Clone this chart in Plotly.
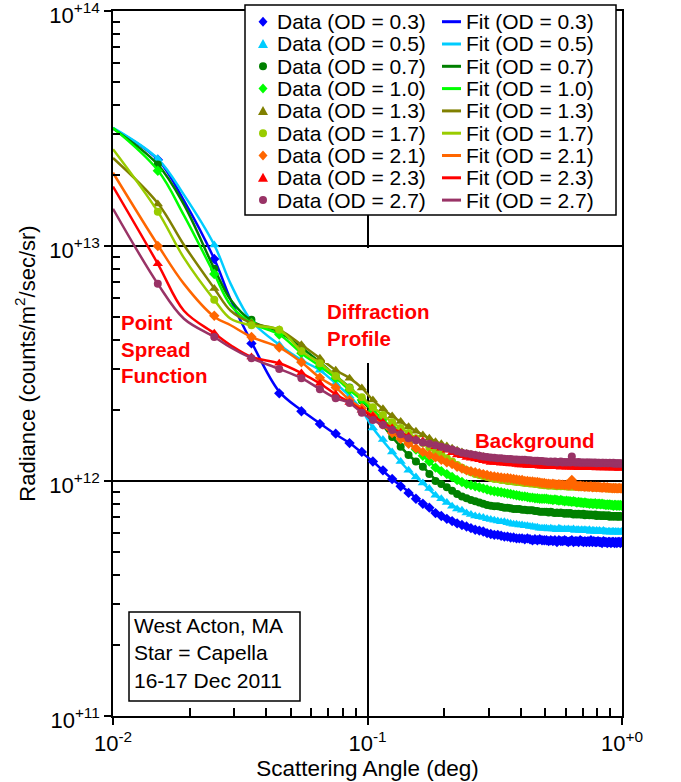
import plotly.graph_objects as go

# ---------------- data (radiance in units of 1e12 counts/m^2/sec/sr) ----------------
OD_LABELS = ["0.3", "0.5", "0.7", "1.0", "1.3", "1.7", "2.1", "2.3", "2.7"]
COLORS = ["#0000FF", "#00CCFF", "#008000", "#00FF00", "#808000",
          "#99CC00", "#FF6600", "#FF0000", "#993366"]
SYMBOLS = ["diamond", "triangle-up", "circle", "diamond", "triangle-up",
           "circle", "diamond", "triangle-up", "circle"]

# scattering angle of the measured points (deg)
DATA_X = [0.015, 0.025, 0.035, 0.045, 0.055, 0.065, 0.075, 0.085, 0.095, 0.105,
          0.115, 0.125, 0.135, 0.145, 0.155, 0.165, 0.175, 0.185, 0.195, 0.205,
          0.215, 0.225, 0.235, 0.245, 0.255, 0.265, 0.275, 0.285, 0.295, 0.305,
          0.315, 0.325, 0.335, 0.345, 0.355, 0.365, 0.375, 0.385, 0.395, 0.405,
          0.415, 0.425, 0.435, 0.445, 0.455, 0.465, 0.475, 0.485, 0.495, 0.505,
          0.515, 0.525, 0.535, 0.545, 0.555, 0.565, 0.575, 0.585, 0.595, 0.605,
          0.615, 0.625, 0.635, 0.645, 0.655, 0.665, 0.675, 0.685, 0.695, 0.705,
          0.715, 0.725, 0.735, 0.745, 0.755, 0.765, 0.775, 0.785, 0.795, 0.805,
          0.815, 0.825, 0.835, 0.845, 0.855, 0.865, 0.875, 0.885, 0.895, 0.905,
          0.915, 0.925, 0.935, 0.945, 0.955, 0.965, 0.975, 0.985, 0.995]

DATA_03 = [23.3, 8.8, 3.85, 2.36, 1.98, 1.75, 1.59, 1.45, 1.33, 1.21,
           1.11, 1.02, 0.95, 0.89, 0.84, 0.80, 0.77, 0.73, 0.71, 0.69,
           0.675, 0.66, 0.65, 0.64, 0.63, 0.62, 0.615, 0.61, 0.60, 0.595,
           0.59, 0.59, 0.585, 0.58, 0.58, 0.575, 0.575, 0.57, 0.57,
           0.57, 0.565, 0.57, 0.565, 0.56, 0.565, 0.56, 0.565, 0.56, 0.56,
           0.56, 0.555, 0.56, 0.555, 0.56, 0.55, 0.56, 0.555, 0.555, 0.56,
           0.555, 0.55, 0.555, 0.56, 0.55, 0.555, 0.555, 0.55, 0.56, 0.555,
           0.55, 0.555, 0.55, 0.555, 0.55, 0.56, 0.55, 0.555, 0.55, 0.55,
           0.555, 0.55, 0.55, 0.545, 0.555, 0.55, 0.55, 0.545, 0.55, 0.55,
           0.545, 0.55, 0.55, 0.545, 0.55, 0.545, 0.55, 0.55, 0.545, 0.55]
DATA_05 = [23.5, 10.1, 4.8, 3.8, 3.27, 2.96, 2.6, 2.3, 2.0, 1.68,
           1.5, 1.33, 1.21, 1.11, 1.04, 0.98, 0.93, 0.87, 0.84, 0.81,
           0.78, 0.76, 0.75, 0.73, 0.72, 0.71, 0.705, 0.70, 0.69, 0.685,
           0.68, 0.675, 0.67, 0.67, 0.665, 0.66, 0.655, 0.655, 0.65,
           0.65, 0.645, 0.645, 0.64, 0.64, 0.635, 0.635, 0.63, 0.63, 0.63,
           0.63, 0.625, 0.63, 0.625, 0.625, 0.62, 0.63, 0.625, 0.62, 0.625,
           0.62, 0.625, 0.62, 0.62, 0.625, 0.615, 0.62, 0.62, 0.615, 0.62,
           0.615, 0.62, 0.615, 0.615, 0.62, 0.61, 0.615, 0.615, 0.61, 0.615,
           0.61, 0.615, 0.61, 0.61, 0.615, 0.61, 0.61, 0.605, 0.61, 0.61,
           0.605, 0.61, 0.61, 0.605, 0.61, 0.605, 0.61, 0.605, 0.605, 0.61]
DATA_07 = [22.2, 8.0, 4.85, 4.3, 3.7, 3.2, 2.8, 2.5, 2.2, 1.96,
           1.74, 1.54, 1.40, 1.29, 1.21, 1.15, 1.07, 1.00, 0.97, 0.94,
           0.91, 0.88, 0.86, 0.845, 0.83, 0.82, 0.81, 0.80, 0.79, 0.785,
           0.78, 0.78, 0.775, 0.77, 0.77, 0.765, 0.76, 0.76, 0.76,
           0.755, 0.755, 0.75, 0.75, 0.75, 0.745, 0.745, 0.74, 0.74, 0.74,
           0.74, 0.735, 0.74, 0.735, 0.73, 0.735, 0.73, 0.735, 0.73, 0.725,
           0.73, 0.725, 0.73, 0.725, 0.72, 0.725, 0.72, 0.725, 0.72, 0.72,
           0.725, 0.715, 0.72, 0.72, 0.715, 0.72, 0.715, 0.715, 0.72, 0.71,
           0.715, 0.715, 0.71, 0.715, 0.71, 0.715, 0.71, 0.71, 0.715, 0.705,
           0.71, 0.71, 0.705, 0.71, 0.71, 0.705, 0.71, 0.705, 0.71, 0.705]
DATA_10 = [20.9, 7.6, 4.7, 4.2, 3.5, 3.08, 2.74, 2.44, 2.21, 2.0,
           1.83, 1.68, 1.56, 1.45, 1.36, 1.28, 1.21, 1.14, 1.10, 1.07,
           1.04, 1.01, 0.99, 0.97, 0.96, 0.95, 0.94, 0.93, 0.92, 0.91,
           0.905, 0.90, 0.895, 0.89, 0.885, 0.88, 0.875, 0.87, 0.865,
           0.86, 0.86, 0.855, 0.85, 0.85, 0.845, 0.845, 0.84, 0.84, 0.84,
           0.84, 0.835, 0.835, 0.83, 0.835, 0.83, 0.825, 0.83, 0.825, 0.82,
           0.825, 0.82, 0.82, 0.815, 0.82, 0.815, 0.81, 0.815, 0.81, 0.81,
           0.805, 0.81, 0.805, 0.805, 0.80, 0.805, 0.80, 0.80, 0.805, 0.795,
           0.80, 0.80, 0.795, 0.80, 0.795, 0.795, 0.79, 0.795, 0.79, 0.795,
           0.79, 0.79, 0.785, 0.79, 0.79, 0.785, 0.79, 0.785, 0.79, 0.785]
DATA_13 = [15.1, 6.6, 4.7, 4.4, 3.8, 3.33, 2.96, 2.74, 2.49, 2.21,
           2.03, 1.89, 1.79, 1.70, 1.63, 1.57, 1.52, 1.47, 1.44, 1.41,
           1.38, 1.35, 1.33, 1.31, 1.30, 1.29, 1.28, 1.27, 1.26, 1.25,
           1.245, 1.24, 1.235, 1.23, 1.23, 1.225, 1.22, 1.22, 1.215,
           1.21, 1.21, 1.205, 1.2, 1.2, 1.2, 1.195, 1.19, 1.19, 1.19,
           1.185, 1.18, 1.185, 1.18, 1.18, 1.175, 1.18, 1.175, 1.175, 1.17,
           1.175, 1.17, 1.17, 1.175, 1.165, 1.17, 1.17, 1.165, 1.17, 1.165,
           1.165, 1.16, 1.165, 1.165, 1.16, 1.165, 1.16, 1.16, 1.165, 1.155,
           1.16, 1.16, 1.155, 1.16, 1.16, 1.155, 1.16, 1.155, 1.155, 1.16,
           1.155, 1.155, 1.15, 1.155, 1.155, 1.15, 1.155, 1.155, 1.15, 1.155]
DATA_17 = [14.0, 5.9, 4.6, 4.4, 3.57, 3.17, 2.8, 2.49, 2.27, 2.06,
           1.91, 1.78, 1.68, 1.6, 1.52, 1.45, 1.39, 1.34, 1.30, 1.25,
           1.21, 1.17, 1.14, 1.11, 1.09, 1.07, 1.06, 1.05, 1.04, 1.03,
           1.02, 1.02, 1.01, 1.01, 1.0, 1.0, 0.995, 0.99, 0.99,
           0.985, 0.98, 0.98, 0.975, 0.975, 0.97, 0.97, 0.965, 0.965, 0.96,
           0.96, 0.955, 0.96, 0.955, 0.955, 0.95, 0.955, 0.95, 0.955, 0.95,
           0.95, 0.945, 0.95, 0.945, 0.95, 0.945, 0.945, 0.95, 0.94, 0.945,
           0.945, 0.94, 0.945, 0.94, 0.94, 0.945, 0.94, 0.935, 0.94, 0.94,
           0.935, 0.94, 0.935, 0.935, 0.94, 0.935, 0.935, 0.93, 0.935, 0.935,
           0.93, 0.935, 0.93, 0.935, 0.93, 0.93, 0.935, 0.93, 0.93, 0.93]
DATA_21 = [10.0, 5.05, 4.1, 3.7, 3.2, 2.75, 2.5, 2.21, 2.04, 1.89,
           1.74, 1.6, 1.51, 1.44, 1.38, 1.33, 1.29, 1.26, 1.23, 1.20,
           1.18, 1.15, 1.13, 1.11, 1.10, 1.09, 1.08, 1.07, 1.06, 1.05,
           1.045, 1.04, 1.035, 1.03, 1.03, 1.025, 1.02, 1.015, 1.01,
           1.01, 1.0, 1.0, 0.995, 0.995, 0.99, 0.99, 0.985, 0.98, 0.98,
           0.975, 0.975, 0.97, 0.975, 0.97, 0.965, 0.97, 0.965, 0.965, 0.96,
           0.965, 0.96, 0.96, 1.01, 0.96, 0.955, 0.955, 0.95, 0.955, 0.95,
           0.95, 0.945, 0.95, 0.945, 0.945, 0.95, 0.94, 0.945, 0.945, 0.94,
           0.945, 0.94, 0.94, 0.935, 0.94, 0.94, 0.935, 0.94, 0.935, 0.935,
           0.935, 0.93, 0.935, 0.93, 0.935, 0.93, 0.93, 0.935, 0.93, 0.93]
DATA_23 = [8.4, 4.25, 3.37, 3.17, 2.88, 2.6, 2.34, 2.16, 2.0, 1.89,
           1.78, 1.68, 1.61, 1.55, 1.51, 1.48, 1.44, 1.40, 1.38, 1.35,
           1.32, 1.29, 1.28, 1.26, 1.25, 1.24, 1.23, 1.22, 1.21, 1.20,
           1.2, 1.195, 1.19, 1.19, 1.185, 1.18, 1.18, 1.175, 1.17,
           1.17, 1.17, 1.165, 1.165, 1.16, 1.16, 1.16, 1.155, 1.155, 1.155,
           1.155, 1.15, 1.155, 1.15, 1.15, 1.155, 1.15, 1.145, 1.15, 1.15,
           1.145, 1.15, 1.145, 1.145, 1.15, 1.145, 1.145, 1.14, 1.145, 1.145,
           1.14, 1.145, 1.14, 1.145, 1.14, 1.14, 1.145, 1.14, 1.14, 1.135,
           1.14, 1.14, 1.135, 1.14, 1.14, 1.135, 1.14, 1.135, 1.14, 1.135,
           1.135, 1.14, 1.135, 1.135, 1.14, 1.135, 1.135, 1.13, 1.135, 1.135]
DATA_27 = [6.9, 4.1, 3.33, 3.0, 2.74, 2.46, 2.25, 2.15, 1.95, 1.82,
           1.73, 1.65, 1.58, 1.52, 1.49, 1.46, 1.44, 1.42, 1.40, 1.38,
           1.36, 1.34, 1.32, 1.31, 1.30, 1.29, 1.28, 1.27, 1.265, 1.26,
           1.255, 1.25, 1.25, 1.245, 1.24, 1.24, 1.235, 1.235, 1.23,
           1.23, 1.23, 1.225, 1.225, 1.22, 1.22, 1.22, 1.215, 1.215, 1.21,
           1.21, 1.205, 1.21, 1.205, 1.21, 1.2, 1.205, 1.21, 1.2, 1.205,
           1.2, 1.205, 1.2, 1.27, 1.205, 1.2, 1.2, 1.205, 1.195, 1.2,
           1.2, 1.195, 1.2, 1.2, 1.195, 1.2, 1.195, 1.195, 1.2, 1.19,
           1.195, 1.195, 1.19, 1.195, 1.195, 1.19, 1.195, 1.19, 1.19, 1.195,
           1.19, 1.19, 1.195, 1.185, 1.19, 1.19, 1.185, 1.19, 1.19, 1.185]

# model fit curves
FIT_X = [0.010, 0.015, 0.019, 0.025, 0.029, 0.035, 0.045, 0.055, 0.065, 0.075,
         0.085, 0.095, 0.105, 0.125, 0.145, 0.165, 0.19, 0.23, 0.27, 0.33,
         0.40, 0.50, 0.80, 1.00]
FIT_03 = [31.6, 23.3, 15.6, 8.8, 5.9, 3.9, 2.4, 2.0, 1.76, 1.58, 1.45, 1.32, 1.21,
          1.02, 0.90, 0.80, 0.72, 0.66, 0.62, 0.59, 0.57, 0.56, 0.555, 0.55]
FIT_05 = [31.8, 23.5, 16.5, 10.1, 6.9, 4.8, 3.8, 3.27, 2.96, 2.6, 2.3, 2.0, 1.68,
          1.33, 1.11, 0.98, 0.85, 0.76, 0.71, 0.68, 0.65, 0.63, 0.61, 0.61]
FIT_07 = [31.6, 22.2, 15.0, 8.0, 5.9, 4.8, 4.3, 3.7, 3.2, 2.8, 2.5, 2.2, 1.96,
          1.54, 1.29, 1.15, 0.99, 0.88, 0.81, 0.78, 0.76, 0.74, 0.72, 0.71]
FIT_10 = [31.8, 21.0, 13.5, 7.6, 5.6, 4.7, 4.2, 3.5, 3.08, 2.74, 2.44, 2.21, 2.0,
          1.68, 1.45, 1.28, 1.12, 1.0, 0.94, 0.90, 0.86, 0.84, 0.81, 0.79]
FIT_13 = [23.7, 15.2, 10.1, 6.6, 5.3, 4.7, 4.4, 3.8, 3.33, 2.96, 2.74, 2.49, 2.21,
          1.89, 1.70, 1.57, 1.45, 1.35, 1.28, 1.23, 1.20, 1.18, 1.16, 1.16]
FIT_17 = [25.8, 14.0, 8.9, 5.9, 4.9, 4.6, 4.4, 3.57, 3.17, 2.8, 2.49, 2.27, 2.06,
          1.78, 1.6, 1.45, 1.31, 1.16, 1.06, 1.01, 0.98, 0.96, 0.94, 0.93]
FIT_21 = [20.5, 10.1, 6.9, 5.0, 4.6, 4.1, 3.7, 3.2, 2.75, 2.5, 2.21, 2.04, 1.89,
          1.6, 1.44, 1.33, 1.25, 1.15, 1.08, 1.04, 1.01, 0.98, 0.95, 0.93]
FIT_23 = [17.9, 8.4, 5.3, 4.25, 3.78, 3.37, 3.17, 2.88, 2.6, 2.34, 2.16, 2.0, 1.89,
          1.68, 1.55, 1.48, 1.39, 1.29, 1.23, 1.19, 1.17, 1.16, 1.15, 1.14]
FIT_27 = [14.4, 6.9, 4.9, 4.1, 3.7, 3.33, 3.0, 2.74, 2.46, 2.25, 2.15, 1.95, 1.82,
          1.65, 1.52, 1.46, 1.42, 1.33, 1.29, 1.25, 1.23, 1.22, 1.20, 1.19]

DATA_SETS = [DATA_03, DATA_05, DATA_07, DATA_10, DATA_13, DATA_17, DATA_21, DATA_23, DATA_27]
FIT_SETS = [FIT_03, FIT_05, FIT_07, FIT_10, FIT_13, FIT_17, FIT_21, FIT_23, FIT_27]
UNIT = 1e12

X_TICKS = [0.01, 0.1, 1.0]
X_TICKTEXT = ["10<sup>-2</sup>", "10<sup>-1</sup>", "10<sup>+0</sup>"]
Y_TICKS = [1e11, 1e12, 1e13, 1e14]
Y_TICKTEXT = ["10<sup>+11</sup>", "10<sup>+12</sup>", "10<sup>+13</sup>", "10<sup>+14</sup>"]
X_MINOR = [m * d for d in (0.01, 0.1) for m in range(2, 10)]
Y_MINOR = [m * d for d in (1e11, 1e12, 1e13) for m in range(2, 10)]

# ---------------- layout geometry (pixels of the 681x782 page) ----------------
W, H = 681, 782
L, R, T, B = 113, 622, 11, 716
FONT = "Liberation Sans, Arial, sans-serif"


def px(x):
    return (x - L) / (R - L)


def py(y):
    return (B - y) / (B - T)


fig = go.Figure()
for i in range(9):
    fig.add_trace(go.Scatter(
        x=DATA_X, y=[v * UNIT for v in DATA_SETS[i]], mode="markers",
        marker=dict(symbol=SYMBOLS[i], color=COLORS[i],
                    size=8 if SYMBOLS[i] != "triangle-up" else 9),
        showlegend=False, cliponaxis=True))
    fig.add_trace(go.Scatter(
        x=FIT_X, y=[v * UNIT for v in FIT_SETS[i]], mode="lines",
        line=dict(color=COLORS[i], width=2.5, shape="spline", smoothing=1.0),
        showlegend=False))

shapes = []
annotations = []

# legend box
shapes.append(dict(type="rect", xref="paper", yref="paper", layer="above",
                   x0=px(245), x1=px(616), y0=py(215), y1=py(5),
                   line=dict(color="black", width=1.5), fillcolor="white"))
ROW0, ROWSTEP = 21.7, 22.3
for i in range(9):
    cy = ROW0 + ROWSTEP * i
    cx = 263
    if SYMBOLS[i] == "diamond":
        pts = [(cx, cy - 5), (cx + 4.5, cy), (cx, cy + 5), (cx - 4.5, cy)]
    elif SYMBOLS[i] == "triangle-up":
        pts = [(cx, cy - 5), (cx + 5, cy + 4), (cx - 5, cy + 4)]
    else:
        pts = None
    if pts:
        path = "M " + " L ".join(f"{px(a):.5f},{py(b):.5f}" for a, b in pts) + " Z"
        shapes.append(dict(type="path", xref="paper", yref="paper", layer="above",
                           path=path, fillcolor=COLORS[i], line=dict(width=0)))
    else:
        shapes.append(dict(type="circle", xref="paper", yref="paper", layer="above",
                           x0=px(cx - 4), x1=px(cx + 4), y0=py(cy + 4), y1=py(cy - 4),
                           fillcolor=COLORS[i], line=dict(width=0)))
    shapes.append(dict(type="line", xref="paper", yref="paper", layer="above",
                       x0=px(442), x1=px(461), y0=py(cy), y1=py(cy),
                       line=dict(color=COLORS[i], width=3)))
    annotations.append(dict(xref="paper", yref="paper", x=px(275), y=py(cy),
                            xanchor="left", yanchor="middle", showarrow=False,
                            text=f"Data (OD = {OD_LABELS[i]})",
                            font=dict(family=FONT, size=21, color="black")))
    annotations.append(dict(xref="paper", yref="paper", x=px(464), y=py(cy),
                            xanchor="left", yanchor="middle", showarrow=False,
                            text=f"Fit (OD = {OD_LABELS[i]})",
                            font=dict(family=FONT, size=21, color="black")))

# white background behind "Diffraction Profile"
shapes.append(dict(type="rect", xref="paper", yref="paper", layer="above",
                   x0=px(325), x1=px(433), y0=py(363), y1=py(248),
                   line=dict(width=0), fillcolor="white"))
# site / star box
shapes.append(dict(type="rect", xref="paper", yref="paper", layer="above",
                   x0=px(129), x1=px(300), y0=py(701), y1=py(612),
                   line=dict(color="black", width=1.5), fillcolor="white"))

red = dict(family=FONT, size=20.5, color="#FF0000")
annotations += [
    dict(xref="paper", yref="paper", x=px(119), y=py(349), xanchor="left", yanchor="middle",
         showarrow=False, align="left", text="<b>Point<br>Spread<br>Function</b>", font=red),
    dict(xref="paper", yref="paper", x=px(325), y=py(324.5), xanchor="left", yanchor="middle",
         showarrow=False, align="left", text="<b>Diffraction<br>Profile</b>", font=red),
    dict(xref="paper", yref="paper", x=px(473), y=py(440), xanchor="left", yanchor="middle",
         showarrow=False, align="left", text="<b>Background</b>", font=red),
    dict(xref="paper", yref="paper", x=px(132), y=py(653), xanchor="left", yanchor="middle",
         showarrow=False, align="left",
         text="West Acton, MA<br>Star = Capella<br>16-17 Dec 2011",
         font=dict(family=FONT, size=21, color="black")),
]

axis_common = dict(
    type="log", showline=True, linecolor="black", linewidth=1.5, mirror=True,
    showgrid=True, gridcolor="black", gridwidth=1.5, zeroline=False,
    ticks="outside", ticklen=7, tickwidth=1.5, tickcolor="black",
    tickfont=dict(family=FONT, size=22, color="black"),
    ticklabeloverflow="allow", automargin=False,
)

fig.update_layout(
    width=W, height=H, autosize=False,
    margin=dict(l=L, r=W - R, t=T, b=H - B, autoexpand=False),
    paper_bgcolor="white", plot_bgcolor="white",
    showlegend=False,
    xaxis=dict(axis_common, range=[-2, 0], tickmode="array", tickvals=X_TICKS,
               ticktext=X_TICKTEXT,
               minor=dict(tickmode="array", tickvals=X_MINOR, ticks="inside",
                          ticklen=8, tickwidth=1.5, tickcolor="black", showgrid=False),
               title=dict(text="Scattering Angle (deg)", standoff=4,
                          font=dict(family=FONT, size=22.5, color="black"))),
    yaxis=dict(axis_common, range=[11, 14], tickmode="array", tickvals=Y_TICKS,
               ticktext=Y_TICKTEXT, ticklabelshift=4,
               minor=dict(tickmode="array", tickvals=Y_MINOR, ticks="inside",
                          ticklen=7, tickwidth=1.5, tickcolor="black", showgrid=False),
               title=dict(text="Radiance (counts/m<sup>2</sup>/sec/sr)", standoff=8,
                          font=dict(family=FONT, size=22, color="black"))),
    shapes=shapes, annotations=annotations,
)

fig.write_html("out.html")
